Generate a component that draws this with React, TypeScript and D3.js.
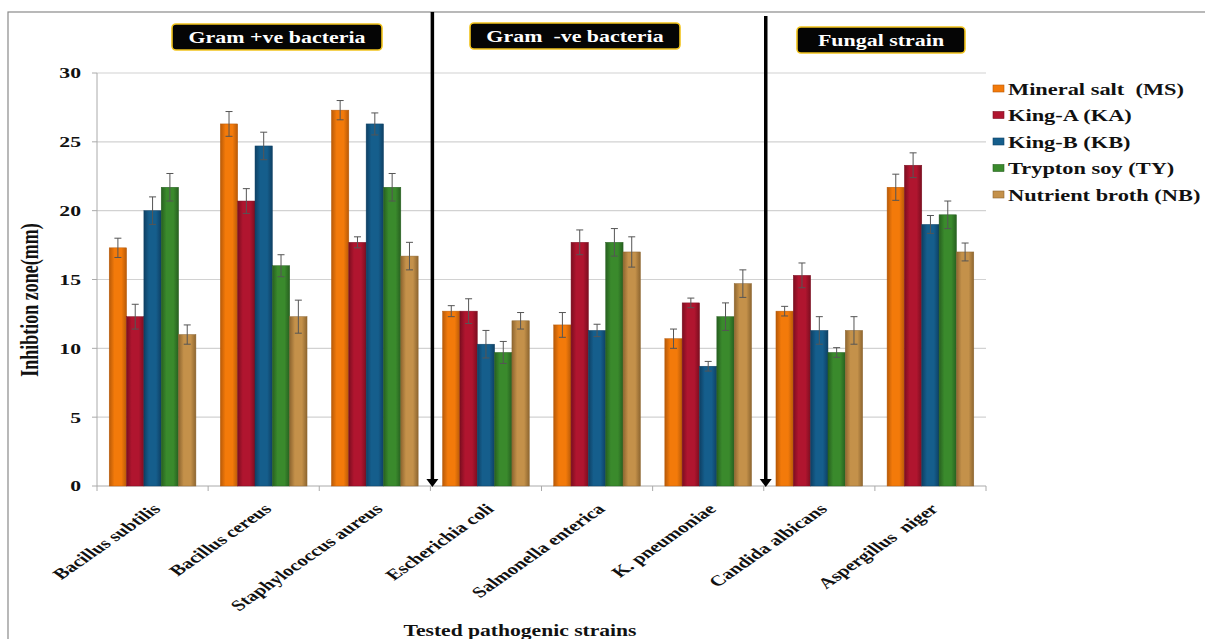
import React from "react";
import * as d3 from "d3";

const categories = [
  "Bacillus subtilis",
  "Bacillus cereus",
  "Staphylococcus aureus",
  "Escherichia coli",
  "Salmonella enterica",
  "K. pneumoniae",
  "Candida albicans",
  "Aspergillus  niger",
];

const seriesNames = [
  "Mineral salt  (MS)",
  "King-A (KA)",
  "King-B (KB)",
  "Trypton soy (TY)",
  "Nutrient broth (NB)",
];

const seriesColors = ["#f37a0a", "#b0152f", "#155e8c", "#3a8a2c", "#c4914a"];
const seriesEdges = ["#b85a08", "#7c0e20", "#0e4064", "#276020", "#8e6630"];

// mean inhibition zone (mm), one array per medium, in category order
const msValues = [17.3, 26.3, 27.3, 12.7, 11.7, 10.7, 12.7, 21.7];
const kaValues = [12.3, 20.7, 17.7, 12.7, 17.7, 13.3, 15.3, 23.3];
const kbValues = [20.0, 24.7, 26.3, 10.3, 11.3, 8.7, 11.3, 19.0];
const tyValues = [21.7, 16.0, 21.7, 9.7, 17.7, 12.3, 9.7, 19.7];
const nbValues = [11.0, 12.3, 16.7, 12.0, 17.0, 14.7, 11.3, 17.0];

// standard deviations
const msErrors = [0.7, 0.9, 0.7, 0.4, 0.9, 0.7, 0.35, 0.95];
const kaErrors = [0.9, 0.9, 0.4, 0.9, 0.9, 0.35, 0.9, 0.9];
const kbErrors = [1.0, 1.0, 0.8, 1.0, 0.45, 0.35, 1.0, 0.65];
const tyErrors = [1.0, 0.8, 1.0, 0.8, 1.0, 1.0, 0.35, 1.0];
const nbErrors = [0.7, 1.2, 1.0, 0.6, 1.1, 1.0, 1.0, 0.65];

const yTicks = [0, 5, 10, 15, 20, 25, 30];

const groupLabels = ["Gram +ve bacteria", "Gram  -ve bacteria", "Fungal strain"];
const dividers = [3, 6];

const allValues = [msValues, kaValues, kbValues, tyValues, nbValues];
const allErrors = [msErrors, kaErrors, kbErrors, tyErrors, nbErrors];

const W = 1205;
const H = 639;
const left = 97;
const right = 986;
const top = 73;
const bottom = 486;
const font = "'Liberation Serif', 'DejaVu Serif', 'Times New Roman', serif";
// the figure's lettering is drawn wide: glyphs are stretched horizontally
const SX = 1.4;

export default function App() {
  const x = d3.scaleBand<string>().domain(categories).range([left, right]).paddingInner(0.22).paddingOuter(0.11);
  const outer = d3.scaleBand<string>().domain(categories).range([left, right]);
  const inner = d3.scaleBand<string>().domain(seriesNames).range([0, x.bandwidth()]);
  const y = d3.scaleLinear().domain([0, 30]).range([bottom, top]);

  const boundary = (i: number) => left + i * outer.step();

  const boxes = [
    { x: 172, y: 24, w: 210, h: 26 },
    { x: 470, y: 23, w: 210, h: 26 },
    { x: 797, y: 27, w: 168, h: 26 },
  ];

  const textStyle = { fontFamily: font, whiteSpace: "pre" as const };

  return (
    <svg
      width={W}
      height={H}
      style={{ position: "absolute", left: 0, top: 0, background: "#fff", fontFamily: font }}
    >
      <defs>
        {seriesColors.map((c, i) => (
          <linearGradient key={i} id={`g${i}`} x1="0" x2="1" y1="0" y2="0">
            <stop offset="0" stopColor={seriesEdges[i]} />
            <stop offset="0.3" stopColor={c} />
            <stop offset="0.7" stopColor={c} />
            <stop offset="1" stopColor={seriesEdges[i]} />
          </linearGradient>
        ))}
      </defs>

      {/* frame */}
      <rect x={8} y={12} width={W + 20} height={H + 20} fill="none" stroke="#8a8a8a" strokeWidth={1.2} />

      {/* grid and y ticks */}
      {yTicks.map((t) => (
        <g key={t}>
          {t > 0 && <line x1={left} x2={right} y1={y(t)} y2={y(t)} stroke="#d2d2d2" strokeWidth={1.2} />}
          <line x1={left - 5} x2={left} y1={y(t)} y2={y(t)} stroke="#aaa" />
          <text
            transform={`translate(81,${y(t)}) scale(${SX},1)`}
            dy="0.35em"
            textAnchor="end"
            fontSize={15.5}
            fontWeight="bold"
            fill="#111"
            style={textStyle}
          >
            {t}
          </text>
        </g>
      ))}
      <line x1={left} x2={left} y1={top} y2={bottom} stroke="#aaa" strokeWidth={1} />
      <line x1={left} x2={right} y1={bottom} y2={bottom} stroke="#aaa" strokeWidth={1} />
      {d3.range(categories.length + 1).map((i) => (
        <line key={i} x1={boundary(i)} x2={boundary(i)} y1={bottom} y2={bottom + 5} stroke="#aaa" />
      ))}

      {/* bars */}
      {categories.map((cat, ci) => (
        <g key={cat} transform={`translate(${x(cat)},0)`}>
          {seriesNames.map((s, si) => {
            const v = allValues[si][ci];
            const e = allErrors[si][ci];
            const bx = inner(s)!;
            const bw = inner.bandwidth();
            const cx = bx + bw / 2;
            return (
              <g key={s}>
                <rect x={bx} y={y(v)} width={bw} height={y(0) - y(v)} fill={`url(#g${si})`} stroke={seriesEdges[si]} strokeWidth={0.5} />
                <line x1={cx} x2={cx} y1={y(v + e)} y2={y(v - e)} stroke="#555" strokeWidth={1} />
                <line x1={cx - 3.5} x2={cx + 3.5} y1={y(v + e)} y2={y(v + e)} stroke="#555" strokeWidth={1} />
                <line x1={cx - 3.5} x2={cx + 3.5} y1={y(v - e)} y2={y(v - e)} stroke="#555" strokeWidth={1} />
              </g>
            );
          })}
        </g>
      ))}

      {/* group dividers with downward arrowheads */}
      {dividers.map((d, i) => {
        const lx = boundary(d) + 2;
        return (
          <g key={d}>
            <line x1={lx} x2={lx} y1={i === 0 ? 12 : 16} y2={bottom - 5} stroke="#000" strokeWidth={3.5} />
            <path d={`M${lx - 6},${bottom - 7} L${lx + 6},${bottom - 7} L${lx},${bottom + 1} Z`} fill="#000" />
          </g>
        );
      })}

      {/* group labels */}
      {groupLabels.map((g, i) => (
        <g key={g}>
          <rect x={boxes[i].x} y={boxes[i].y} width={boxes[i].w} height={boxes[i].h} rx={4} fill="#050505" stroke="#f2c41c" strokeWidth={1.6} />
          <text
            transform={`translate(${boxes[i].x + boxes[i].w / 2},${boxes[i].y + boxes[i].h / 2}) scale(1.33,1)`}
            dy="0.35em"
            textAnchor="middle"
            fontSize={16.5}
            fontWeight="bold"
            fill="#fff"
            style={textStyle}
          >
            {g}
          </text>
        </g>
      ))}

      {/* category labels */}
      {categories.map((cat) => {
        const cx = outer(cat)! + outer.bandwidth() / 2;
        return (
          <text
            key={cat}
            transform={`translate(${cx + 9},${bottom + 24}) scale(${SX},1) rotate(-44.5)`}
            textAnchor="end"
            fontSize={15}
            fontWeight="bold"
            fill="#111"
            style={textStyle}
          >
            {cat}
          </text>
        );
      })}

      {/* axis titles */}
      <text
        transform={`translate(38,300) scale(${SX},1) rotate(-90)`}
        textAnchor="middle"
        fontSize={18}
        fontWeight="bold"
        fill="#111"
        style={textStyle}
      >
        Inhibtion zone(mm)
      </text>
      <text
        transform="translate(520,636) scale(1.27,1)"
        textAnchor="middle"
        fontSize={17}
        fontWeight="bold"
        fill="#111"
        style={textStyle}
      >
        Tested pathogenic strains
      </text>

      {/* legend */}
      {seriesNames.map((s, i) => (
        <g key={s} transform={`translate(993,${89 + i * 26.5})`}>
          <rect x={0} y={-4} width={11} height={7} fill={seriesColors[i]} stroke={seriesEdges[i]} strokeWidth={0.6} />
          <text
            transform={`translate(15,0) scale(${SX},1)`}
            dy="0.35em"
            fontSize={16}
            fontWeight="bold"
            fill="#111"
            style={textStyle}
          >
            {s}
          </text>
        </g>
      ))}
    </svg>
  );
}
